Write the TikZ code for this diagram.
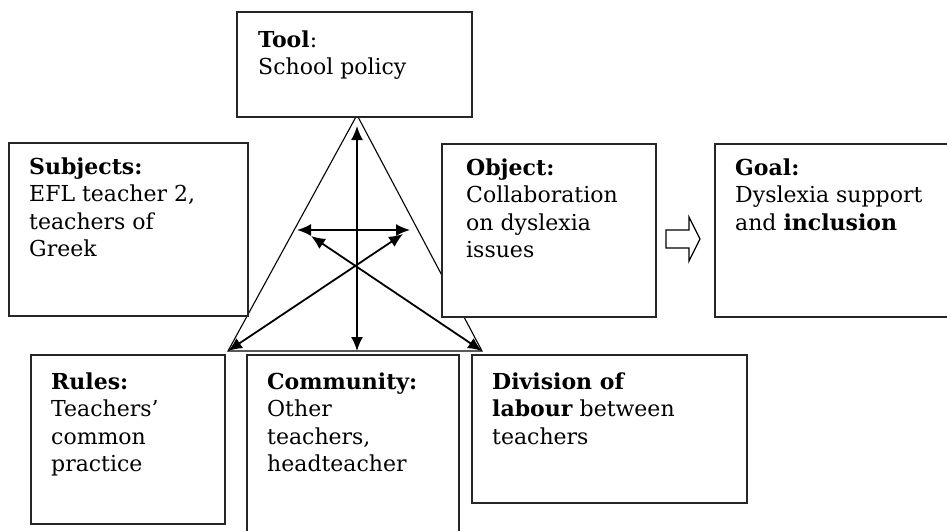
\documentclass[tikz,border=0pt]{standalone}
\usepackage{fontspec}
\setmainfont{DejaVu Serif}
\usetikzlibrary{arrows.meta,calc}
% stacked lines whose baseline is the first line
\newcommand\boxlines[1]{\begin{tabular}[t]{@{}l@{}}#1\end{tabular}}
\begin{document}
\begin{tikzpicture}[x=1pt,y=-1pt,
  box/.style={draw=black!85, line width=1.5pt, fill=white, anchor=north west,
              inner sep=0pt, outer sep=0pt},
  txt/.style={anchor=base west, inner sep=0pt,
              font=\fontsize{22}{27.5}\selectfont},
  tri/.style={line width=1.1pt},
  link/.style={line width=1.8pt,
               {Latex[length=14pt,width=12pt]}-{Latex[length=14pt,width=12pt]}}]

\useasboundingbox (0,0) rectangle (947,530);
\fill[white] (0,0) rectangle (947,530);

% corners of the activity triangle and ends of the links
\coordinate (apex) at (357,115);
\coordinate (bl) at (228,351);
\coordinate (br) at (482,351);
\coordinate (bm) at (357,351);
\coordinate (vt) at (357,126);
\coordinate (hl) at (297,230);
\coordinate (hr) at (410,230);
\coordinate (dl) at (311,236);
\coordinate (dr) at (403,234);

% triangle outline
\draw[tri] (apex) -- (bl) -- (br) -- cycle;

% boxes
\node[box, minimum width=235pt, minimum height=105pt] (tool) at (237,12) {};
\node[box, minimum width=239pt, minimum height=173pt] (subj) at (9,143) {};
\node[box, minimum width=214pt, minimum height=173pt] (obj) at (442,144) {};
\node[box, minimum width=260pt, minimum height=173pt] (goal) at (715,144) {};
\node[box, minimum width=194pt, minimum height=169pt] (rules) at (31,355) {};
\node[box, minimum width=212pt, minimum height=190pt] (comm) at (247,355) {};
\node[box, minimum width=275pt, minimum height=148pt] (div) at (472,355) {};

% texts
\node[txt] (ttool) at ($(tool.north west)+(21,35)$)
  {\boxlines{\textbf{Tool}:\\School policy}};
\node[txt] (tsubj) at ($(subj.north west)+(20,31)$)
  {\boxlines{\textbf{Subjects:}\\EFL teacher 2,\\teachers of\\Greek}};
\node[txt] (tobj) at ($(obj.north west)+(24,31)$)
  {\boxlines{\textbf{Object:}\\Collaboration\\on dyslexia\\issues}};
\node[txt] (tgoal) at ($(goal.north west)+(20,31)$)
  {\boxlines{\textbf{Goal:}\\Dyslexia support\\and \textbf{inclusion}}};
\node[txt] (trules) at ($(rules.north west)+(20,34)$)
  {\boxlines{\textbf{Rules:}\\Teachers'\\common\\practice}};
\node[txt] (tcomm) at ($(comm.north west)+(20,34)$)
  {\boxlines{\textbf{Community:}\\Other\\teachers,\\headteacher}};
\node[txt] (tdiv) at ($(div.north west)+(20,34)$)
  {\boxlines{\textbf{Division of}\\\textbf{labour} between\\teachers}};

% links inside the triangle
\draw[link] (vt) -- (bm);
\draw[link] (hl) -- (hr);
\draw[link] (bl) -- (dr);
\draw[link] (br) -- (dl);

% hollow arrow from object to goal
\draw[line width=1.2pt, fill=white]
  (666,230) -- (689,230) -- (689,217) -- (700,239) -- (689,261)
  -- (689,248) -- (666,248) -- cycle;
\end{tikzpicture}
\end{document}
